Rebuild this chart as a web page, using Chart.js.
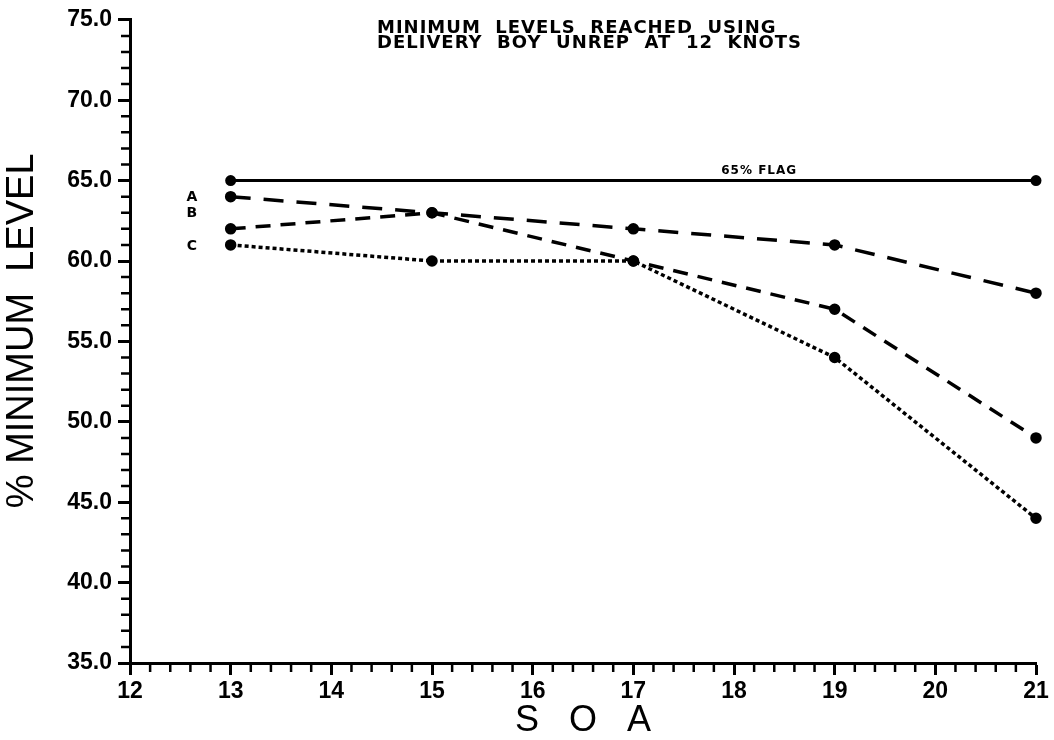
<!DOCTYPE html>
<html><head><meta charset="utf-8">
<script src="https://cdn.jsdelivr.net/npm/chart.js@4/dist/chart.umd.min.js"></script>
<style>html,body{margin:0;padding:0;background:#fff}#wrap{width:1054px;height:740px}</style>
</head><body><div id="wrap"><canvas id="c" width="1054" height="740"></canvas></div>
<script>
// ---- data ----
const soa = [13, 15, 17, 19, 21];
const flagX = [13, 21];
const flagLevel = [65, 65];
const seriesA = [64, 63, 62, 61, 58];
const seriesB = [62, 63, 60, 57, 49];
const seriesC = [61, 60, 60, 54, 44];
const seriesNames = ['A', 'B', 'C'];
const seriesLabelLevel = [64, 63, 61];
const flagName = '65% FLAG';
const titleLines = ['MINIMUM  LEVELS  REACHED  USING', 'DELIVERY  BOY  UNREP  AT  12  KNOTS'];
const xTitle = 'S   O   A';
const yTitle = '  % MINIMUM  LEVEL';
const xMin = 12, xMax = 21, yMin = 35, yMax = 75;

const pts = (xs, ys) => xs.map((x, i) => ({x: x, y: ys[i]}));

const annot = {
  id: 'annot',
  afterDraw(chart) {
    const ctx = chart.ctx, xs = chart.scales.x, ys = chart.scales.y;
    ctx.save();
    ctx.strokeStyle = '#000';
    ctx.fillStyle = '#000';
    ctx.lineWidth = 2.5;
    ctx.beginPath();
    for (let i = 0; i <= Math.round((xMax - xMin) * 5); i++) {
      if (i % 5 === 0) continue;
      const px = xs.getPixelForValue(xMin + i * 0.2);
      ctx.moveTo(px, xs.top); ctx.lineTo(px, xs.top + 9);
    }
    for (let v = yMin; v <= yMax; v++) {
      if (v % 5 === 0) continue;
      const py = ys.getPixelForValue(v);
      ctx.moveTo(ys.right - 9, py); ctx.lineTo(ys.right, py);
    }
    ctx.stroke();
    // title
    try { ctx.letterSpacing = '1px'; } catch (e) {}
    ctx.font = 'bold 18px "DejaVu Sans"';
    ctx.textAlign = 'left';
    ctx.textBaseline = 'alphabetic';
    ctx.fillText(titleLines[0], 377, 33);
    ctx.fillText(titleLines[1], 377, 48);
    // series labels
    ctx.font = 'bold 14px "DejaVu Sans"';
    ctx.textAlign = 'center';
    ctx.textBaseline = 'middle';
    seriesNames.forEach((n, i) => {
      ctx.fillText(n, xs.getPixelForValue(12.62), ys.getPixelForValue(seriesLabelLevel[i]) + 1);
    });
    ctx.font = 'bold 12px "DejaVu Sans"';
    ctx.textBaseline = 'alphabetic';
    ctx.fillText(flagName, xs.getPixelForValue(18.25), ys.getPixelForValue(65) - 7);
    ctx.restore();
  }
};

const common = {borderColor: '#000', backgroundColor: '#000', pointRadius: 4, pointHoverRadius: 4,
  pointBackgroundColor: '#000', pointBorderColor: '#000', fill: false, tension: 0, clip: false};

new Chart(document.getElementById('c'), {
  type: 'line',
  data: {
    datasets: [
      Object.assign({label: flagName, data: pts(flagX, flagLevel), borderWidth: 3}, common),
      Object.assign({label: seriesNames[0], data: pts(soa, seriesA), borderWidth: 3.5, borderDash: [20, 13]}, common),
      Object.assign({label: seriesNames[1], data: pts(soa, seriesB), borderWidth: 3.5, borderDash: [15, 10]}, common),
      Object.assign({label: seriesNames[2], data: pts(soa, seriesC), borderWidth: 3.5, borderDash: [4, 3]}, common)
    ]
  },
  options: {
    responsive: false,
    animation: false,
    devicePixelRatio: 1,
    layout: {padding: {top: 13, right: 18, left: 0, bottom: 0}, autoPadding: false},
    plugins: {legend: {display: false}, tooltip: {enabled: false}, title: {display: false}},
    scales: {
      x: {
        type: 'linear', min: xMin, max: xMax,
        ticks: {stepSize: 1, color: '#000', font: {family: 'Liberation Sans', size: 23, weight: 'bold'},
          padding: 3, maxRotation: 0, autoSkip: false},
        grid: {display: true, drawOnChartArea: false, drawTicks: true, tickLength: 12, tickWidth: 3, tickColor: '#000', color: '#000'},
        border: {display: true, width: 3, color: '#000'},
        title: {display: true, text: xTitle, color: '#000', font: {family: 'Liberation Sans', size: 36}, padding: {top: 0, bottom: -3}},
        afterFit: s => { s.height = 77; }
      },
      y: {
        type: 'linear', min: yMin, max: yMax,
        ticks: {stepSize: 5, color: '#000', font: {family: 'Liberation Sans', size: 23, weight: 'bold'},
          padding: 6, callback: v => Number(v).toFixed(1)},
        grid: {display: true, drawOnChartArea: false, drawTicks: true, tickLength: 12, tickWidth: 3, tickColor: '#000', color: '#000'},
        border: {display: true, width: 3, color: '#000'},
        title: {display: true, text: yTitle, color: '#000', font: {family: 'Liberation Sans', size: 38}, padding: 0},
        afterFit: s => { s.width = 130; }
      }
    }
  },
  plugins: [annot]
});
</script>
</body></html>
